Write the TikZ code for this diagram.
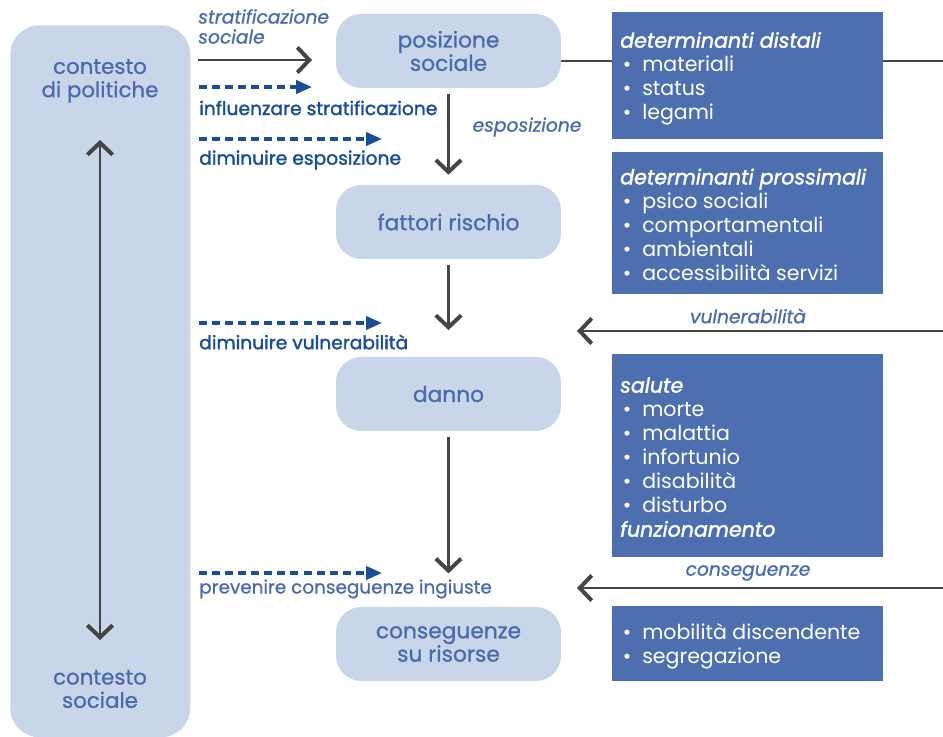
\documentclass[tikz,border=0pt]{standalone}
\usepackage{fontspec}
\setmainfont{Poppins}
\newfontfamily\medfont{Poppins}[FakeBold=0.9]
\newfontfamily\semifont{Poppins}[FakeBold=1.8]
\usetikzlibrary{arrows.meta}
\definecolor{lightbox}{HTML}{C9D5E8}
\definecolor{midblue}{HTML}{4A6AAE}
\definecolor{boxblue}{HTML}{4E6FAF}
\definecolor{navy}{HTML}{1B4F95}
\definecolor{arrgray}{HTML}{454545}
\newcommand{\bl}{\makebox[16.5pt][l]{\hspace{2pt}\textbullet}}
\newcommand{\hd}[1]{{\semifont\itshape #1}}
\tikzset{
  chev/.tip={Straight Barb[length=9pt,width=19pt,line width=3pt]},
  midnode/.style={rectangle, rounded corners=19pt, fill=lightbox, minimum width=168.75pt, minimum height=55.5pt, align=center, text=midblue, inner sep=0pt, font=\fontsize{16.3}{17.5}\selectfont\medfont},
  ctxtext/.style={align=center, text=midblue, inner sep=0pt, font=\fontsize{16}{17.5}\selectfont\medfont},
  darkbox/.style={rectangle, fill=boxblue, anchor=north west, minimum width=203.25pt, inner sep=0pt},
  boxtext/.style={anchor=west, inner sep=0pt, align=left, text=white, font=\fontsize{15.4}{18}\selectfont},
  grayarrow/.style={draw=arrgray, line width=2.1pt, -chev},
  grayline/.style={draw=arrgray, line width=2.1pt},
  dasharrow/.style={draw=navy, line width=2.3pt, dash pattern=on 6pt off 3.8pt, -{Triangle[length=12pt,width=10pt]}},
  actlabel/.style={anchor=west, inner sep=0pt, text=navy, font=\fontsize{14}{13}\selectfont\semifont},
  itlabel/.style={inner sep=0pt, text=midblue, font=\fontsize{14}{15}\selectfont\medfont\itshape},
}
\begin{document}
\begin{tikzpicture}[x=0.75pt,y=-0.75pt]
\useasboundingbox (0,0) rectangle (943,737);
% left context column
\node (ctx) [rectangle, rounded corners=22pt, fill=lightbox, anchor=north west, minimum width=135pt, minimum height=534pt, inner sep=0pt] at (10,25) {};
\node (polctx) [ctxtext] at (100,81) {contesto\\di politiche};
\node (socctx) [ctxtext] at (100,689) {contesto\\sociale};
\coordinate (dtop) at (100,140);
\coordinate (dbot) at (100,640);
\draw[draw=arrgray, line width=2.1pt, chev-chev] (dtop) -- (dbot);

% horizontal line behind the distal box
\coordinate (posR) at (561,61);
\coordinate (edgeR) at (943,61);
\draw[grayline] (posR) -- (edgeR);

% middle nodes
\node (pos) [midnode] at (448.5,51) {posizione\\sociale};
\node (fat) [midnode] at (448.5,222) {fattori rischio};
\node (dan) [midnode] at (448.5,394) {danno};
\node (con) [midnode] at (448.5,644) {conseguenze\\su risorse};

\draw[grayarrow, shorten <=4.5pt, shorten >=7.5pt] (pos.south) -- (fat.north);
\draw[grayarrow, shorten <=4.5pt, shorten >=20pt] (fat.south) -- (dan.north);
\draw[grayarrow, shorten <=4.5pt, shorten >=25pt] (dan.south) -- (con.north);
\node (espo) [itlabel] at (527,127) {esposizione};

% stratification arrow
\coordinate (sA) at (198,60);
\coordinate (sB) at (312,60);
\draw[grayarrow] (sA) -- (sB);
\node (strat) [itlabel, anchor=north west, align=left] at (198,9) {stratificazione\\sociale};

% dashed policy arrows
\coordinate (d1a) at (199,87);  \coordinate (d1b) at (312,87);
\coordinate (d2a) at (199,139); \coordinate (d2b) at (382,139);
\coordinate (d3a) at (199,323); \coordinate (d3b) at (382,323);
\coordinate (d4a) at (199,573); \coordinate (d4b) at (382,573);
\draw[dasharrow] (d1a) -- (d1b);
\draw[dasharrow] (d2a) -- (d2b);
\draw[dasharrow] (d3a) -- (d3b);
\draw[dasharrow] (d4a) -- (d4b);
\node (infl) [actlabel] at (199,108) {influenzare stratificazione};
\node (dimesp) [actlabel] at (199,160) {diminuire esposizione};
\node (dimvul) [actlabel] at (199,342) {diminuire vulnerabilità};
\node (prev) [actlabel, text=midblue, font=\fontsize{13.8}{13}\selectfont\medfont] at (199,589) {prevenire conseguenze ingiuste};

% right boxes
\node (distali) [darkbox, minimum height=95.25pt] at (612,12) {};
\node (distaliT) [boxtext] at ([xshift=6pt,yshift=-2.2pt]distali.west) {\hd{determinanti distali}\\\bl materiali\\\bl status\\\bl legami};
\node (prossimali) [darkbox, minimum height=106.5pt] at (612,152) {};
\node (prossimaliT) [boxtext] at ([xshift=6pt,yshift=-1pt]prossimali.west) {\hd{determinanti prossimali}\\\bl psico sociali\\\bl comportamentali\\\bl ambientali\\\bl accessibilità servizi};
\node (salute) [darkbox, minimum height=152.25pt] at (612,354) {};
\node (saluteT) [boxtext] at ([xshift=6pt,yshift=-1pt]salute.west) {\hd{salute}\\\bl morte\\\bl malattia\\\bl infortunio\\\bl disabilità\\\bl disturbo\\\hd{funzionamento}};
\node (risorse) [darkbox, minimum height=56.25pt] at (612,606) {};
\node (risorseT) [boxtext] at ([xshift=6pt,yshift=-1.5pt]risorse.west) {\bl mobilità discendente\\\bl segregazione};

% incoming arrows from the right
\coordinate (vA) at (943,331); \coordinate (vB) at (577,331);
\coordinate (cA) at (943,588); \coordinate (cB) at (577,588);
\draw[grayarrow] (vA) -- (vB);
\draw[grayarrow] (cA) -- (cB);
\node (vul) [itlabel] at (748,316) {vulnerabilità};
\node (cons) [itlabel] at (748,573) {conseguenze};
\end{tikzpicture}
\end{document}
